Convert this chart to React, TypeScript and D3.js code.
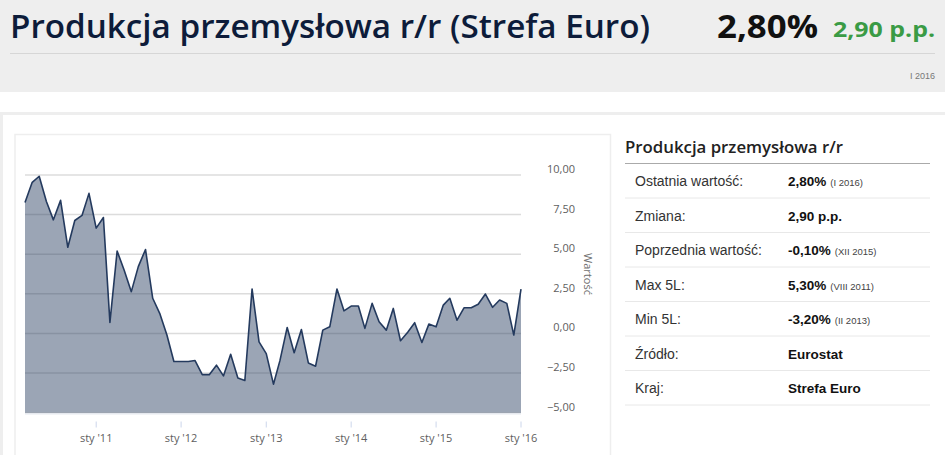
import * as d3 from "d3";

// monthly values, Mar 2010 .. Jan 2016 (y/y %, euro area industrial production)
const START = new Date(2010, 2, 1);
const VALUES = [
  8.27, 9.54, 9.92, 8.33, 7.17, 8.4, 5.44, 7.13, 7.45, 8.84,
  6.65, 7.32, 0.7, 5.2, 4.01, 2.64, 4.22, 5.3, 2.22, 1.27, -0.1, -1.77,
  -1.77, -1.77, -1.71, -2.6, -2.6, -2.0, -2.68, -1.31, -2.81, -2.97, 2.81, -0.53,
  -1.27, -3.2, -1.7, 0.38, -1.22, 0.25, -1.86, -2.07, 0.21, 0.42, 2.81, 1.43,
  1.73, 1.73, 0.32, 1.9, 0.74, 0.21, 1.58, -0.46, 0.08, 0.68, -0.57, 0.59,
  0.42, 1.79, 2.22, 0.84, 1.62, 1.62, 1.84, 2.49, 1.65, 2.11, 1.9, -0.1,
  2.8,
];
const Y_TICKS = [-5, -2.5, 0, 2.5, 5, 7.5, 10];
const X_TICK_YEARS = [2011, 2012, 2013, 2014, 2015, 2016];

const TABLE_LABELS = [
  "Ostatnia wartość:",
  "Zmiana:",
  "Poprzednia wartość:",
  "Max 5L:",
  "Min 5L:",
  "Źródło:",
  "Kraj:",
];
const TABLE_VALUES = ["2,80%", "2,90 p.p.", "-0,10%", "5,30%", "-3,20%", "Eurostat", "Strefa Euro"];
const TABLE_NOTES = ["(I 2016)", "", "(XII 2015)", "(VIII 2011)", "(II 2013)", "", ""];

const W = 945;
const H = 455;
const plot = { left: 25, right: 521, top: 175, bottom: 412.7 };

const fmt = (v: number) => d3.format(".2f")(v).replace(".", ",").replace("-", "\u2212");

export default function App() {
  const data = VALUES.map((v, i) => ({ date: d3.timeMonth.offset(START, i), value: v }));

  const x = d3
    .scaleTime()
    .domain([data[0].date, data[data.length - 1].date])
    .range([plot.left, plot.right]);
  const y = d3.scaleLinear().domain([-5, 10]).range([plot.bottom, plot.top]);

  const area = d3
    .area<{ date: Date; value: number }>()
    .x((d) => x(d.date))
    .y0(y(-5))
    .y1((d) => y(d.value));
  const line = d3
    .line<{ date: Date; value: number }>()
    .x((d) => x(d.date))
    .y((d) => y(d.value));

  const navy = "#243a5e";
  const rowTop = 163.5;
  const rowH = 34.5;

  return (
    <svg
      width={W}
      height={H}
      style={{ position: "absolute", left: 0, top: 0 }}
      fontFamily="'Open Sans', sans-serif"
    >
      <rect width={W} height={H} fill="#fff" />
      {/* header */}
      <rect width={W} height={92} fill="#eeeeee" />
      <text x={10} y={38} fontSize={33} fontWeight={600} fill="#0d1c3a" textLength={640} lengthAdjust="spacingAndGlyphs">
        Produkcja przemysłowa r/r (Strefa Euro)
      </text>
      <text x={717} y={38} fontSize={33} fontWeight="bold" fill="#111" textLength={101} lengthAdjust="spacingAndGlyphs">
        2,80%
      </text>
      <text x={833} y={37} fontSize={21} fontWeight="bold" fill="#3a9b45" textLength={102} lengthAdjust="spacingAndGlyphs">
        2,90 p.p.
      </text>
      <line x1={10} x2={935} y1={53.5} y2={53.5} stroke="#d6d6d6" />
      <text x={935} y={79} fontSize={9} fill="#777" textAnchor="end" fontFamily="'Liberation Sans', Arial">
        I 2016
      </text>

      {/* outer panel */}
      <rect x={0} y={112} width={W} height={3} fill="#eeeeee" />
      <rect x={0} y={112} width={3} height={H - 112} fill="#eeeeee" />
      {/* chart box */}
      <rect x={15} y={134.5} width={595.5} height={340} fill="#fff" stroke="#eeeeee" strokeWidth={1.5} />

      {/* grid */}
      {Y_TICKS.map((t) => (
        <line key={t} x1={plot.left} x2={plot.right} y1={y(t)} y2={y(t)} stroke="#dcdcdc" strokeWidth={1.5} />
      ))}
      <path d={area(data) ?? ""} fill={navy} fillOpacity={0.46} />
      <path d={line(data) ?? ""} fill="none" stroke={navy} strokeWidth={1.6} strokeLinejoin="round" />
      <line x1={plot.left} x2={plot.right} y1={plot.bottom + 1} y2={plot.bottom + 1} stroke="#e6e9ef" strokeWidth={1.5} />

      {/* y axis labels (right) */}
      {Y_TICKS.map((t) => (
        <text key={t} x={575} y={y(t) - 2} fontSize={11} fill="#606060" textAnchor="end">
          {fmt(t)}
        </text>
      ))}
      <text transform="translate(584,274) rotate(90)" fontSize={11} fill="#707070" textAnchor="middle">
        Wartość
      </text>

      {/* x axis ticks */}
      {X_TICK_YEARS.map((yr) => {
        const px = x(new Date(yr, 0, 1));
        return (
          <g key={yr}>
            <line x1={px} x2={px} y1={421.5} y2={427.5} stroke="#ccd6eb" />
            <text x={px} y={441.5} fontSize={11} fill="#606060" textAnchor="middle">
              {`sty '${String(yr).slice(2)}`}
            </text>
          </g>
        );
      })}

      {/* right info panel */}
      <text x={625} y={153} fontSize={16.5} fontWeight={600} fill="#222" textLength={218} lengthAdjust="spacingAndGlyphs">
        Produkcja przemysłowa r/r
      </text>
      <line x1={625} x2={930} y1={rowTop} y2={rowTop} stroke="#aaaaaa" strokeWidth={1.2} />
      {TABLE_LABELS.map((lab, i) => {
        const base = rowTop + rowH * i + 22.5;
        return (
          <g key={lab} fontFamily="'Liberation Sans', Arial">
            <text x={635} y={base} fontSize={14} fill="#333">
              {lab}
            </text>
            <text x={788} y={base} fontSize={13.5} fontWeight="bold" fill="#111">
              {TABLE_VALUES[i]}
              {TABLE_NOTES[i] && (
                <tspan fontSize={9.5} fontWeight="normal" fill="#444" dx={4}>
                  {TABLE_NOTES[i]}
                </tspan>
              )}
            </text>
            <line x1={625} x2={930} y1={rowTop + rowH * (i + 1)} y2={rowTop + rowH * (i + 1)} stroke="#e8e8e8" />
          </g>
        );
      })}
    </svg>
  );
}
